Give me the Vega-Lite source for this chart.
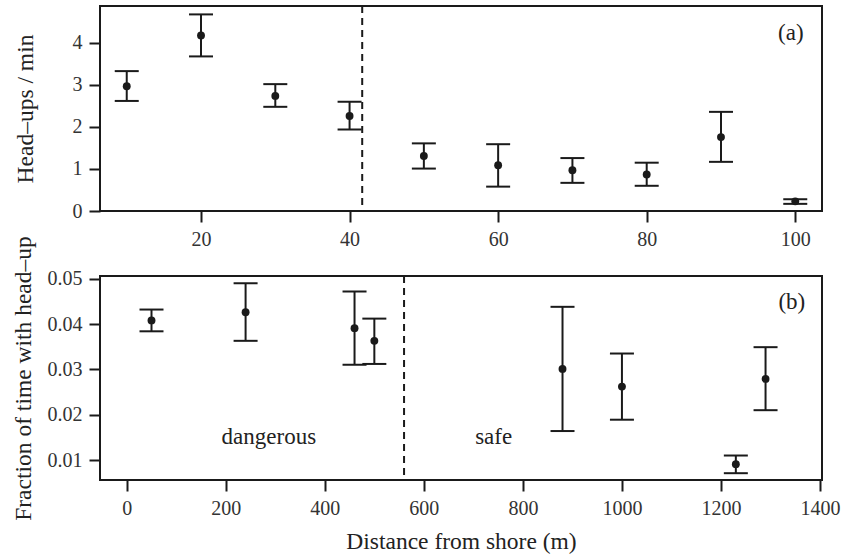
{
  "$schema": "https://vega.github.io/schema/vega-lite/v6.json",
  "padding": {"left": 9, "top": 4, "right": 10, "bottom": 2},
  "spacing": 65,
  "bounds": "flush",
  "background": "white",
  "datasets": {
    "a": [
      {"dist": 10, "mean": 2.97, "lo": 2.62, "hi": 3.33},
      {"dist": 20, "mean": 4.18, "lo": 3.68, "hi": 4.68},
      {"dist": 30, "mean": 2.74, "lo": 2.48, "hi": 3.02},
      {"dist": 40, "mean": 2.26, "lo": 1.94, "hi": 2.60},
      {"dist": 50, "mean": 1.31, "lo": 1.01, "hi": 1.61},
      {"dist": 60, "mean": 1.09, "lo": 0.58, "hi": 1.59},
      {"dist": 70, "mean": 0.97, "lo": 0.67, "hi": 1.26},
      {"dist": 80, "mean": 0.87, "lo": 0.60, "hi": 1.15},
      {"dist": 90, "mean": 1.76, "lo": 1.17, "hi": 2.36},
      {"dist": 100, "mean": 0.23, "lo": 0.17, "hi": 0.28}
    ],
    "b": [
      {"dist": 50, "mean": 0.0408, "lo": 0.0384, "hi": 0.0432},
      {"dist": 240, "mean": 0.0426, "lo": 0.0363, "hi": 0.0490},
      {"dist": 460, "mean": 0.0391, "lo": 0.0310, "hi": 0.0472},
      {"dist": 500, "mean": 0.0363, "lo": 0.0312, "hi": 0.0412},
      {"dist": 880, "mean": 0.0301, "lo": 0.0164, "hi": 0.0438},
      {"dist": 1000, "mean": 0.0262, "lo": 0.0189, "hi": 0.0335},
      {"dist": 1230, "mean": 0.0091, "lo": 0.0071, "hi": 0.0110},
      {"dist": 1290, "mean": 0.0279, "lo": 0.0210, "hi": 0.0349}
    ]
  },
  "vconcat": [
    {
      "width": 722,
      "height": 205,
      "layer": [
        {
          "data": {"name": "a"},
          "mark": {"type": "rule", "color": "#1a1a1a", "strokeWidth": 2},
          "encoding": {
            "x": {"field": "dist", "type": "quantitative",
              "scale": {"domain": [6.4, 103.6], "nice": false, "zero": false},
              "axis": {"values": [20, 40, 60, 80, 100], "title": null}},
            "y": {"field": "lo", "type": "quantitative",
              "scale": {"domain": [0, 4.88], "nice": false},
              "axis": {"values": [0, 1, 2, 3, 4], "title": "Head–ups / min",
                "titleX": -75, "titleY": 102.5, "titleBaseline": "middle"}},
            "y2": {"field": "hi"}
          }
        },
        {
          "data": {"name": "a"},
          "mark": {"type": "tick", "orient": "horizontal", "size": 24, "thickness": 2, "color": "#1a1a1a", "opacity": 1},
          "encoding": {"x": {"field": "dist", "type": "quantitative"}, "y": {"field": "lo", "type": "quantitative"}}
        },
        {
          "data": {"name": "a"},
          "mark": {"type": "tick", "orient": "horizontal", "size": 24, "thickness": 2, "color": "#1a1a1a", "opacity": 1},
          "encoding": {"x": {"field": "dist", "type": "quantitative"}, "y": {"field": "hi", "type": "quantitative"}}
        },
        {
          "data": {"name": "a"},
          "mark": {"type": "point", "filled": true, "size": 62, "color": "#1a1a1a", "opacity": 1},
          "encoding": {"x": {"field": "dist", "type": "quantitative"}, "y": {"field": "mean", "type": "quantitative"}}
        },
        {
          "data": {"values": [{}]},
          "mark": {"type": "rule", "strokeDash": [7, 5], "strokeWidth": 2, "color": "#1a1a1a"},
          "encoding": {"x": {"datum": 41.7}}
        },
        {
          "data": {"values": [{}]},
          "mark": {"type": "text", "text": "(a)", "font": "Liberation Serif, Times New Roman, serif", "fontWeight": "normal", "fontSize": 23, "color": "#222", "align": "center", "baseline": "middle"},
          "encoding": {"x": {"datum": 99.4}, "y": {"datum": 4.23}}
        }
      ]
    },
    {
      "width": 722,
      "height": 204,
      "layer": [
        {
          "data": {"name": "b"},
          "mark": {"type": "rule", "color": "#1a1a1a", "strokeWidth": 2},
          "encoding": {
            "x": {"field": "dist", "type": "quantitative",
              "scale": {"domain": [-54, 1404], "nice": false, "zero": false},
              "axis": {"values": [0, 200, 400, 600, 800, 1000, 1200, 1400], "format": "d", "title": "Distance from shore (m)", "titlePadding": 11}},
            "y": {"field": "lo", "type": "quantitative",
              "scale": {"domain": [0.0056, 0.0506], "nice": false, "zero": false},
              "axis": {"values": [0.01, 0.02, 0.03, 0.04, 0.05], "format": ".2f", "title": "Fraction of time with head–up",
                "titleX": -77, "titleY": 102, "titleBaseline": "middle"}},
            "y2": {"field": "hi"}
          }
        },
        {
          "data": {"name": "b"},
          "mark": {"type": "tick", "orient": "horizontal", "size": 24, "thickness": 2, "color": "#1a1a1a", "opacity": 1},
          "encoding": {"x": {"field": "dist", "type": "quantitative"}, "y": {"field": "lo", "type": "quantitative"}}
        },
        {
          "data": {"name": "b"},
          "mark": {"type": "tick", "orient": "horizontal", "size": 24, "thickness": 2, "color": "#1a1a1a", "opacity": 1},
          "encoding": {"x": {"field": "dist", "type": "quantitative"}, "y": {"field": "hi", "type": "quantitative"}}
        },
        {
          "data": {"name": "b"},
          "mark": {"type": "point", "filled": true, "size": 62, "color": "#1a1a1a", "opacity": 1},
          "encoding": {"x": {"field": "dist", "type": "quantitative"}, "y": {"field": "mean", "type": "quantitative"}}
        },
        {
          "data": {"values": [{}]},
          "mark": {"type": "rule", "strokeDash": [7, 5], "strokeWidth": 2, "color": "#1a1a1a"},
          "encoding": {"x": {"datum": 560}}
        },
        {
          "data": {"values": [{}]},
          "mark": {"type": "text", "text": "(b)", "font": "Liberation Serif, Times New Roman, serif", "fontWeight": "normal", "fontSize": 23, "color": "#222", "align": "center", "baseline": "middle"},
          "encoding": {"x": {"datum": 1343}, "y": {"datum": 0.0449}}
        },
        {
          "data": {"values": [{}]},
          "mark": {"type": "text", "text": "dangerous", "font": "Liberation Serif, Times New Roman, serif", "fontWeight": "normal", "fontSize": 23, "color": "#222", "align": "center", "baseline": "middle"},
          "encoding": {"x": {"datum": 287}, "y": {"datum": 0.0151}}
        },
        {
          "data": {"values": [{}]},
          "mark": {"type": "text", "text": "safe", "font": "Liberation Serif, Times New Roman, serif", "fontWeight": "normal", "fontSize": 23, "color": "#222", "align": "center", "baseline": "middle"},
          "encoding": {"x": {"datum": 741}, "y": {"datum": 0.0151}}
        }
      ]
    }
  ],
  "config": {
    "view": {"stroke": "#1a1a1a", "strokeWidth": 2},
    "axis": {
      "domain": false,
      "grid": false,
      "ticks": true,
      "tickColor": "#1a1a1a",
      "tickWidth": 2,
      "tickSize": 11,
      "labelFont": "Liberation Serif, Times New Roman, serif",
      "labelFontSize": 20,
      "labelColor": "#333",
      "labelPadding": 7,
      "titleFont": "Liberation Serif, Times New Roman, serif",
      "titleFontSize": 23.5,
      "titleFontWeight": "normal",
      "titleColor": "#222"
    },
    "axisY": {"labelBaseline": "middle"}
  }
}
